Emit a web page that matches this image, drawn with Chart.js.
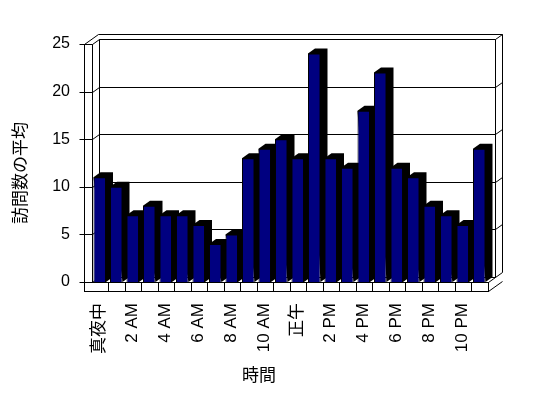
<!DOCTYPE html>
<html>
<head>
  <meta charset="utf-8" />
  <title>訪問数の平均</title>
  <script src="https://cdn.jsdelivr.net/npm/chart.js"></script>
  <style>
    html, body {
      margin: 0;
      padding: 0;
      background: #fff;
    }
    #chart {
      display: block;
    }
  </style>
</head>
<body>
  <canvas id="chart" width="548" height="398"></canvas>

  <script>
    // Kategorien: Stunden (nur jede zweite wird beschriftet)
    const hours = [
      '真夜中', '1 AM', '2 AM', '3 AM', '4 AM', '5 AM', '6 AM', '7 AM',
      '8 AM', '9 AM', '10 AM', '11 AM', '正午', '1 PM', '2 PM', '3 PM',
      '4 PM', '5 PM', '6 PM', '7 PM', '8 PM', '9 PM', '10 PM', '11 PM'
    ];

    // Durchschnittliche Besuche pro Stunde
    const visits = [
      11, 10, 7, 8, 7, 7, 6, 4, 5, 13, 14, 15,
      13, 24, 13, 12, 18, 22, 12, 11, 8, 7, 6, 14
    ];

    const yTicks = [0, 5, 10, 15, 20, 25];
    const xTitle = '時間';
    const yTitle = '訪問数の平均';

    const barColor = '#000080';
    const DX = 7;   // Tiefe nach rechts
    const DY = 5;   // Tiefe nach oben
    const fontStack = "'Liberation Sans', 'Noto Sans CJK JP', sans-serif";

    function line(ctx, x1, y1, x2, y2) {
      ctx.beginPath();
      ctx.moveTo(x1, y1);
      ctx.lineTo(x2, y2);
      ctx.stroke();
    }

    // Rahmen im Excel-3D-Stil + Seiten/Deckel der Balken
    const frame3d = {
      id: 'frame3d',
      beforeDatasetsDraw(chart) {
        const ctx = chart.ctx;
        const area = chart.chartArea;
        const yScale = chart.scales.y;
        const L = Math.round(area.left) + 0.5;
        const R = Math.round(area.right) + 0.5;
        const T = Math.round(area.top) + 0.5;
        const B = Math.round(area.bottom) + 0.5;
        const wallL = L - 8;     // Aussenkante linke Wand
        const floorB = B + 9;    // Unterkante Boden

        ctx.save();
        ctx.strokeStyle = '#000';
        ctx.lineWidth = 1;

        // Rückwand
        line(ctx, L + DX, T - DY, R + DX, T - DY);
        line(ctx, L + DX, T - DY, L + DX, B - DY);
        line(ctx, R + DX, T - DY, R + DX, B - DY);
        line(ctx, L + DX, B - DY, R + DX, B - DY);

        // Wanddicke oben / rechts
        line(ctx, wallL + 2 * DX, T - 2 * DY, R + 2 * DX, T - 2 * DY);
        line(ctx, R + 2 * DX, T - 2 * DY, R + 2 * DX, B - 2 * DY);
        line(ctx, wallL, T, wallL + 2 * DX, T - 2 * DY);
        line(ctx, R, floorB, R + 2 * DX, floorB - 2 * DY);

        // linke Wand
        line(ctx, wallL, T, wallL, floorB);
        line(ctx, L, T, L, B);
        line(ctx, wallL, T, L, T);

        // Gitterlinien + Teilstriche
        yTicks.forEach(v => {
          const y = Math.round(yScale.getPixelForValue(v)) + 0.5;
          line(ctx, wallL - 5, y, L, y);
          line(ctx, L, y, L + DX, y - DY);
          line(ctx, L + DX, y - DY, R + DX, y - DY);
          line(ctx, R + DX, y - DY, R + 2 * DX, y - 2 * DY);
        });

        // Boden
        line(ctx, R, B, R + DX, B - DY);
        ctx.fillStyle = '#fff';
        ctx.fillRect(wallL, B, R - wallL, floorB - B);
        ctx.strokeRect(wallL, B, R - wallL, floorB - B);
        const band = (area.right - area.left) / hours.length;
        for (let k = 1; k < hours.length; k++) {
          const x = Math.round(area.left + k * band) + 0.5;
          line(ctx, x, B, x, floorB);
        }

        // Seiten und Deckel der Balken
        ctx.fillStyle = '#000';
        chart.getDatasetMeta(0).data.forEach(bar => {
          const xl = bar.x - bar.width / 2;
          const xr = bar.x + bar.width / 2;
          ctx.beginPath();
          ctx.moveTo(xl, bar.y);
          ctx.lineTo(xl + DX, bar.y - DY);
          ctx.lineTo(xr + DX, bar.y - DY);
          ctx.lineTo(xr + DX, bar.base - DY);
          ctx.lineTo(xr, bar.base);
          ctx.closePath();
          ctx.fill();
        });

        ctx.restore();
      },

      // senkrechte Kategorienbeschriftung + Achsentitel
      afterDraw(chart) {
        const ctx = chart.ctx;
        const xScale = chart.scales.x;
        const top = chart.chartArea.bottom + 21;

        ctx.save();
        ctx.fillStyle = '#000';
        ctx.font = '17px ' + fontStack;
        ctx.textBaseline = 'middle';

        hours.forEach((label, i) => {
          if (i % 2 !== 0) return;
          ctx.save();
          ctx.translate(xScale.getPixelForTick(i), top);
          ctx.rotate(-Math.PI / 2);
          ctx.textAlign = 'right';
          ctx.fillText(label, 0, 0);
          ctx.restore();
        });

        ctx.textAlign = 'center';
        ctx.fillText(xTitle, 259, 376);

        ctx.translate(21, 173);
        ctx.rotate(-Math.PI / 2);
        ctx.fillText(yTitle, 0, 0);
        ctx.restore();
      }
    };

    new Chart(document.getElementById('chart'), {
      type: 'bar',
      data: {
        labels: hours,
        datasets: [{
          label: yTitle,
          data: visits,
          backgroundColor: barColor,
          borderColor: '#000',
          borderWidth: 1,
          categoryPercentage: 1,
          barPercentage: 0.76
        }]
      },
      options: {
        responsive: false,
        animation: false,
        layout: {
          padding: { top: 44, right: 60.5, left: 0, bottom: 0 }
        },
        plugins: {
          legend: { display: false },
          tooltip: { enabled: false }
        },
        scales: {
          x: {
            grid: { display: false, drawTicks: false },
            border: { display: false },
            ticks: { display: false, autoSkip: false },
            afterFit: s => { s.height = 116; }
          },
          y: {
            min: 0,
            max: 25,
            grid: { display: false, drawTicks: false },
            border: { display: false },
            ticks: {
              stepSize: 5,
              padding: 21.5,
              color: '#000',
              font: { family: fontStack, size: 16 }
            },
            afterFit: s => { s.width = 91.5; }
          }
        }
      },
      plugins: [frame3d]
    });
  </script>
</body>
</html>
